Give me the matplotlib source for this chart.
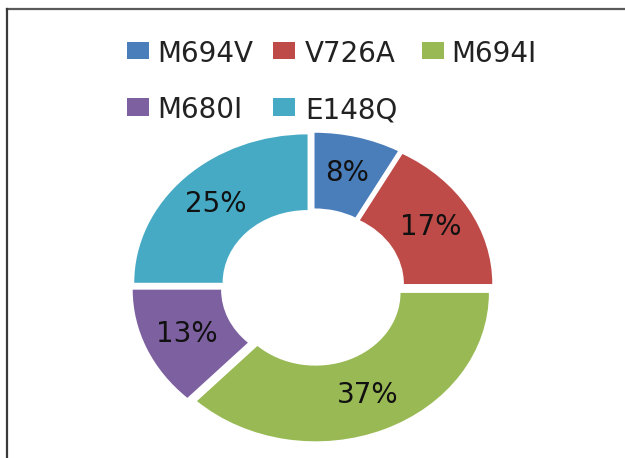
import matplotlib
matplotlib.use("Agg")
import matplotlib.pyplot as plt
from matplotlib.patches import Rectangle
from matplotlib.lines import Line2D

# ---- data ----
categories = ["M694V", "V726A", "M694I", "M680I", "E148Q"]
values = [8, 17, 37, 13, 25]
colors = ["#4A7EBB", "#BE4B48", "#98B954", "#7D60A0", "#46AAC5"]

W, H = 625, 458
fig = plt.figure(figsize=(W / 100, H / 100), dpi=100)
fig.patch.set_facecolor("white")
plt.rcParams["font.family"] = ["DejaVu Sans"]

# donut geometry in pixels (center, radii)
cx, cy = 312.7, 287.2
rx, ry = 173.3, 148.4

ax = fig.add_axes([0, 0, 1, 1])
wedges, texts, autotexts = ax.pie(
    values,
    colors=colors,
    startangle=90,
    counterclock=False,
    explode=[0.042] * len(values),
    radius=1.0,
    wedgeprops=dict(width=0.51, linewidth=0),
    autopct=lambda p: f"{p:.0f}%",
    pctdistance=0.75,
    textprops=dict(fontsize=20, color="#111111"),
)
ax.set_aspect("auto")
ax.set_xlim(-cx / rx, (W - cx) / rx)
ax.set_ylim(-(H - cy) / ry, cy / ry)
ax.axis("off")

# ---- legend (manual layout) ----
sq_x = [127, 273, 422]
txt_x = [157, 305, 451]
row_center = [50.5, 107]
for i, (lab, col) in enumerate(zip(categories, colors)):
    r, c = divmod(i, 3)
    yc = row_center[r]
    fig.patches.append(Rectangle(((sq_x[c]) / W, (H - yc - 8.5) / H), 22 / W, 17 / H,
                                 transform=fig.transFigure, facecolor=col,
                                 edgecolor="none", figure=fig))
    fig.text(txt_x[c] / W, (H - yc) / H, lab, fontsize=20, color="#222222",
             ha="left", va="center_baseline")

# ---- outer frame (top and left edges visible) ----
fig.add_artist(Line2D([6.5 / W, 1.0], [(H - 8.5) / H, (H - 8.5) / H],
                      transform=fig.transFigure, color="#5a5a5a", lw=1.6))
fig.add_artist(Line2D([6.5 / W, 6.5 / W], [(H - 8.5) / H, 0],
                      transform=fig.transFigure, color="#3a3a3a", lw=1.6))

fig.savefig("out.png", dpi=100, facecolor="white")
